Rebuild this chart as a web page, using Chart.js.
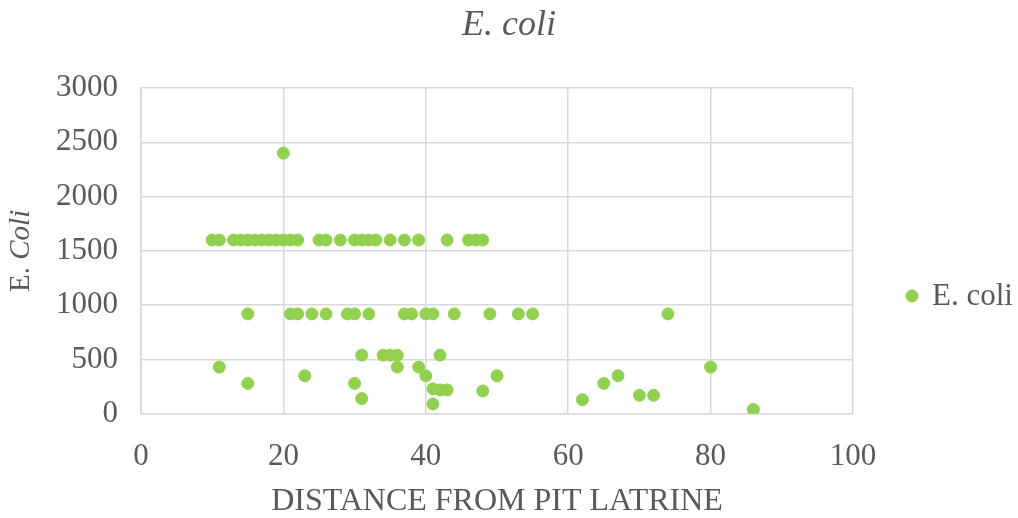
<!DOCTYPE html>
<html>
<head>
<meta charset="utf-8">
<script src="https://cdn.jsdelivr.net/npm/chart.js@4/dist/chart.umd.min.js"></script>
<style>
  html, body { margin: 0; padding: 0; background: #ffffff; }
  #wrap { width: 1018px; height: 518px; }
</style>
</head>
<body>
<div id="wrap"><canvas id="c" width="1018" height="518"></canvas></div>
<script>
// ---- data ----
const seriesName = 'E. coli';
const chartTitle = 'E. coli';
const xAxisTitle = 'DISTANCE FROM PIT LATRINE';
const distance = [
  10, 11, 13, 14, 15, 16, 17, 18, 19, 20, 21, 22, 25, 26, 28, 30, 31, 32, 33, 35, 37, 39, 43, 46, 47, 48,
  20,
  15, 21, 22, 24, 26, 29, 30, 32, 37, 38, 40, 41, 44, 49, 53, 55, 74,
  31, 34, 35, 36, 42,
  11, 36, 39, 80,
  23, 40, 50, 67,
  15, 30, 65,
  41, 42, 43,
  48, 31, 41, 62, 70, 72, 86
];
const ecoli = [
  1600, 1600, 1600, 1600, 1600, 1600, 1600, 1600, 1600, 1600, 1600, 1600, 1600, 1600, 1600, 1600, 1600, 1600, 1600, 1600, 1600, 1600, 1600, 1600, 1600, 1600,
  2400,
  920, 920, 920, 920, 920, 920, 920, 920, 920, 920, 920, 920, 920, 920, 920, 920, 920,
  540, 540, 540, 540, 540,
  430, 430, 430, 430,
  350, 350, 350, 350,
  280, 280, 280,
  230, 220, 220,
  210, 140, 90, 130, 170, 170, 40
];
const xTicks = [0, 20, 40, 60, 80, 100];
const yTicks = [0, 500, 1000, 1500, 2000, 2500, 3000];

// ---- styling ----
const FONT = "'Liberation Serif', 'Times New Roman', serif";
const TEXT = '#595959';
const GRID = '#d9d9d9';
const GREEN = '#92D050';

const points = distance.map((d, i) => ({ x: d, y: ecoli[i] }));

// centre the chart title over the whole canvas (as in the reference)
const titleCenterPlugin = {
  id: 'titleCenter',
  afterLayout(chart) {
    const t = chart.titleBlock;
    if (t) { t.left = 0; t.right = chart.width; t.width = chart.width; }
  }
};

const yTitlePlugin = {
  id: 'yTitle',
  afterDraw(chart) {
    const ctx = chart.ctx;
    const a = chart.chartArea;
    const cy = (a.top + a.bottom) / 2;
    ctx.save();
    ctx.translate(21, cy);
    ctx.rotate(-Math.PI / 2);
    ctx.fillStyle = TEXT;
    ctx.textBaseline = 'middle';
    const f1 = '29px ' + FONT;
    const f2 = 'italic 29px ' + FONT;
    ctx.font = f1; const w1 = ctx.measureText('E. ').width;
    ctx.font = f2; const w2 = ctx.measureText('Coli').width;
    let x = -(w1 + w2) / 2;
    ctx.font = f1; ctx.textAlign = 'left'; ctx.fillText('E. ', x, 0);
    ctx.font = f2; ctx.fillText('Coli', x + w1, 0);
    ctx.restore();
  }
};

const legendPlugin = {
  id: 'customLegend',
  afterDraw(chart) {
    const ctx = chart.ctx;
    ctx.save();
    ctx.fillStyle = GREEN;
    ctx.beginPath();
    ctx.arc(912, 296, 6.5, 0, Math.PI * 2);
    ctx.fill();
    ctx.fillStyle = TEXT;
    ctx.font = '31px ' + FONT;
    ctx.textBaseline = 'middle';
    ctx.textAlign = 'left';
    ctx.fillText(seriesName, 932, 297);
    ctx.restore();
  }
};

new Chart(document.getElementById('c'), {
  type: 'scatter',
  data: {
    datasets: [{
      label: seriesName,
      data: points,
      backgroundColor: GREEN,
      borderColor: GREEN,
      borderWidth: 1,
      pointRadius: 6,
      pointHoverRadius: 6
    }]
  },
  options: {
    responsive: false,
    animation: false,
    layout: { padding: { left: 33, right: 165, top: 0, bottom: 0 } },
    plugins: {
      legend: { display: false },
      tooltip: { enabled: false },
      title: {
        display: true,
        text: chartTitle,
        color: TEXT,
        font: { family: FONT, size: 36, style: 'italic', weight: 'normal' },
        padding: { top: 3.5, bottom: 41.3 }
      }
    },
    scales: {
      x: {
        type: 'linear',
        min: 0, max: 100,
        afterBuildTicks(scale) { scale.ticks = xTicks.map(v => ({ value: v })); },
        ticks: { color: TEXT, font: { family: FONT, size: 31 }, padding: 24, callback: v => String(v) },
        grid: { color: GRID, lineWidth: 1.5, drawTicks: false },
        border: { color: GRID, width: 1.5 },
        title: {
          display: true, text: xAxisTitle, color: TEXT,
          font: { family: FONT, size: 32, lineHeight: 1 },
          padding: { top: -13, bottom: 0 }
        }
      },
      y: {
        type: 'linear',
        min: 0, max: 3000,
        afterBuildTicks(scale) { scale.ticks = yTicks.map(v => ({ value: v })); },
        ticks: { color: TEXT, font: { family: FONT, size: 31 }, padding: 23, callback: v => String(v) },
        grid: { color: GRID, lineWidth: 1.5, drawTicks: false },
        border: { color: GRID, width: 1.5 }
      }
    }
  },
  plugins: [titleCenterPlugin, yTitlePlugin, legendPlugin]
});
</script>
</body>
</html>
